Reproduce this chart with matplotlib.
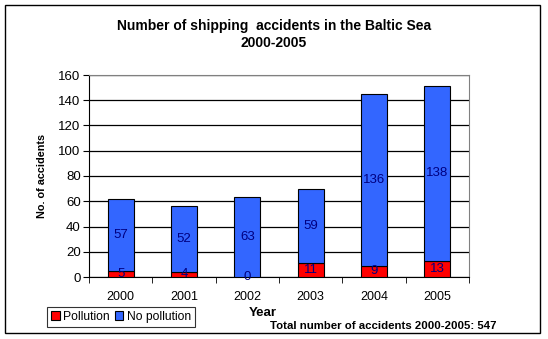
import matplotlib

matplotlib.use("Agg")
import matplotlib.pyplot as plt
import numpy as np
from matplotlib.patches import Rectangle

years = ["2000", "2001", "2002", "2003", "2004", "2005"]
pollution = [5, 4, 0, 11, 9, 13]
no_pollution = [57, 52, 63, 59, 136, 138]
total = 547

plt.rcParams["font.family"] = ["Liberation Sans", "DejaVu Sans"]

RED = "#ff0000"
BLUE = "#3366ff"
LABEL = "#000080"

fig = plt.figure(figsize=(5.48, 3.39), dpi=100)
ax = fig.add_axes([89 / 548, 62 / 339, 380 / 548, 202 / 339])

x = np.arange(len(years))
w = 0.41
ax.bar(x, pollution, w, color=RED, edgecolor="black", linewidth=0.8, zorder=3, label="Pollution")
ax.bar(x, no_pollution, w, bottom=pollution, color=BLUE, edgecolor="black", linewidth=0.8,
       zorder=3, label="No pollution")

for xi, p, n in zip(x, pollution, no_pollution):
    ax.text(xi, p / 2, str(p), ha="center", va="center", fontsize=9.5, color=LABEL, zorder=4)
    ax.text(xi, p + n / 2, str(n), ha="center", va="center", fontsize=9.5, color=LABEL, zorder=4)

ax.set_xlim(-0.5, len(years) - 0.5)
ax.set_ylim(0, 160)
ax.set_yticks(range(0, 161, 20))
ax.set_xticks(x)
ax.set_xticklabels(years)
ax.set_xticks(np.arange(-0.5, len(years), 1), minor=True)
ax.tick_params(axis="x", which="major", length=0, labelsize=9, pad=10)
ax.tick_params(axis="x", which="minor", length=4, direction="out", color="black")
ax.tick_params(axis="y", length=4, direction="out", labelsize=9.5, pad=2)

ax.yaxis.grid(True, color="black", linewidth=0.9, zorder=0)
ax.set_axisbelow(True)
for side in ("top", "right"):
    ax.spines[side].set_color("#808080")
for side in ("left", "bottom"):
    ax.spines[side].set_color("black")

ax.set_ylabel("No. of accidents", fontsize=7.8, fontweight="bold", labelpad=8)

fig.text(0.5, 1 - 26 / 339, "Number of shipping  accidents in the Baltic Sea",
         ha="center", va="center", fontsize=10, fontweight="bold")
fig.text(0.5, 1 - 43 / 339, "2000-2005", ha="center", va="center", fontsize=10, fontweight="bold")
fig.text(263 / 548, 1 - 313 / 339, "Year", ha="center", va="center", fontsize=9.5, fontweight="bold")
fig.text(497 / 548, 1 - 326 / 339, f"Total number of accidents 2000-2005: {total}",
         ha="right", va="center", fontsize=8.2, fontweight="bold")

leg = fig.legend(loc="lower left", bbox_to_anchor=(47 / 548, 12 / 339), ncol=2, fontsize=8.7,
                 frameon=True, fancybox=False, edgecolor="black", handlelength=0.7,
                 handleheight=0.7, handletextpad=0.3, columnspacing=0.4, borderpad=0.35,
                 borderaxespad=0)
leg.get_frame().set_linewidth(0.8)

fig.patches.append(Rectangle((5 / 548, 6 / 339), 535 / 548, 328 / 339, transform=fig.transFigure,
                             fill=False, edgecolor="black", linewidth=1))

fig.savefig("out.png", dpi=100)
